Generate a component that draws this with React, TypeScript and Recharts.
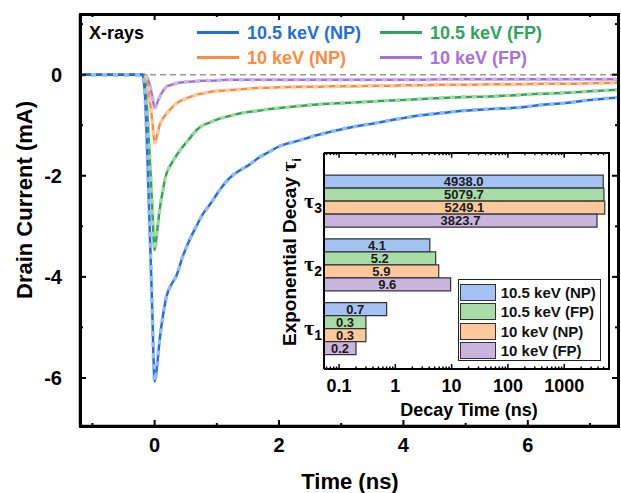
import React from "react";
import { LineChart, Line, XAxis, YAxis, ReferenceLine, BarChart, Bar, LabelList } from "recharts";

// main panel: drain current transients (mA) vs time (ns)
const times = [
  -1.2, -0.6, -0.2, -0.16, -0.12, -0.08, -0.04, 0, 0.04, 0.08, 0.13, 0.19, 0.27, 0.35, 0.45, 0.55,
  0.67, 0.78, 0.9, 1.04, 1.2, 1.36, 1.5, 1.69, 1.85, 2.0, 2.33, 2.6, 2.86, 3.2, 3.5, 3.8, 4.0, 4.3,
  4.6, 5.0, 5.4, 5.86, 6.2, 6.6, 7.0, 7.45,
];
const np105 = [
  0, 0, 0, -0.3, -1.5, -3.0, -4.6, -6.07, -5.75, -5.25, -4.8, -4.39, -4.15, -3.98, -3.6, -3.3,
  -3.0, -2.75, -2.55, -2.29, -2.05, -1.9, -1.8, -1.63, -1.52, -1.42, -1.3, -1.2, -1.12, -1.03, -0.97, -0.9, -0.86, -0.8,
  -0.76, -0.71, -0.68, -0.65, -0.6, -0.56, -0.5, -0.45,
];
const fp105 = [
  0, 0, 0, -0.1, -0.7, -1.6, -2.6, -3.47, -3.1, -2.68, -2.3, -1.96, -1.76, -1.6, -1.43, -1.28,
  -1.1, -1.0, -0.94, -0.87, -0.82, -0.77, -0.74, -0.71, -0.68, -0.66, -0.62, -0.59, -0.57, -0.55, -0.53, -0.51, -0.5, -0.48,
  -0.46, -0.44, -0.43, -0.4, -0.38, -0.36, -0.33, -0.3,
];
const np10 = [
  0, 0, 0, 0, -0.2, -0.5, -0.9, -1.35, -1.2, -1.0, -0.87, -0.77, -0.66, -0.57, -0.5, -0.45,
  -0.4, -0.37, -0.34, -0.32, -0.31, -0.29, -0.28, -0.26, -0.26, -0.25, -0.24, -0.24, -0.23, -0.23, -0.22, -0.22, -0.21, -0.21,
  -0.2, -0.2, -0.19, -0.19, -0.18, -0.18, -0.17, -0.16,
];
const fp10 = [
  0, 0, 0, 0, -0.05, -0.2, -0.42, -0.66, -0.56, -0.44, -0.33, -0.24, -0.2, -0.17, -0.15, -0.14,
  -0.13, -0.12, -0.12, -0.11, -0.1, -0.1, -0.1, -0.1, -0.1, -0.1, -0.1, -0.1, -0.1, -0.1, -0.1, -0.1, -0.1, -0.1,
  -0.09, -0.09, -0.09, -0.09, -0.09, -0.09, -0.09, -0.09,
];

const seriesNames = ["10.5 keV (NP)", "10.5 keV (FP)", "10 keV (NP)", "10 keV (FP)"];
const seriesKeys = ["np105", "fp105", "np10", "fp10"];
const lineColors = ["#1f6fe0", "#2ea55c", "#ff8a3d", "#a96fe0"];
const fitColors = ["#93bbf2", "#a2d99c", "#fcc89c", "#cbb2e8"];
const barFills = ["#a4c2f4", "#a8dca6", "#fdc99a", "#c9b5dd"];

const xDomain = [-1.2, 7.45];
const yDomain = [-6.95, 1.2];
const xTicks = [-1, 0, 1, 2, 3, 4, 5, 6, 7];
const xLabels = [0, 2, 4, 6];
const yTicks = [-6, -5, -4, -3, -2, -1, 0, 1];
const yLabels = [0, -2, -4, -6];

// inset: fitted decay constants (ns)
const tauNames = ["3", "2", "1"];
const tauNp105 = [4938.0, 4.1, 0.7];
const tauFp105 = [5079.7, 5.2, 0.3];
const tauNp10 = [5249.1, 5.9, 0.3];
const tauFp10 = [3823.7, 9.6, 0.2];
const decayMajor = [0.1, 1, 10, 100, 1000];
const decayMinor = [0.01, 0.1, 1, 10, 100, 1000]
  .flatMap((d) => [2, 3, 4, 5, 6, 7, 8, 9].map((m) => +(m * d).toPrecision(3)))
  .filter((v) => v > 0.054 && v < 6000);

const rows = times.map((t, i) => ({ t, np105: np105[i], fp105: fp105[i], np10: np10[i], fp10: fp10[i] }));
const tauRows = tauNames.map((name, i) => ({
  name, np105: tauNp105[i], fp105: tauFp105[i], np10: tauNp10[i], fp10: tauFp10[i],
}));

const FONT = "'Liberation Sans', Arial, sans-serif";
const P = { l: 80, r: 618, t: 14, b: 426 };
const IN = { x: 280, y: 140, w: 340, h: 285, l: 44, r: 328, t: 12.7, b: 229 };

// bottom ticks also draw the mirrored ticks on the top edge
const BottomTick = ({ x, payload }: any) => {
  const major = xLabels.includes(payload.value);
  const len = major ? 6 : 3;
  return (
    <g>
      <line x1={x} x2={x} y1={P.b} y2={P.b - len} stroke="#000" strokeWidth={2} />
      <line x1={x} x2={x} y1={P.t} y2={P.t + len} stroke="#000" strokeWidth={2} />
      {major && (
        <text x={x} y={P.b + 26} textAnchor="middle" fontSize={20} fontWeight="bold" fontFamily={FONT} fill="#000">
          {payload.value}
        </text>
      )}
    </g>
  );
};

// left ticks also draw the mirrored ticks on the right edge
const LeftTick = ({ y, payload }: any) => {
  const major = yLabels.includes(payload.value);
  const len = major ? 6 : 3;
  return (
    <g>
      <line x1={P.l} x2={P.l + len} y1={y} y2={y} stroke="#000" strokeWidth={2} />
      <line x1={P.r} x2={P.r - len} y1={y} y2={y} stroke="#000" strokeWidth={2} />
      {major && (
        <text x={62} y={y + 7} textAnchor="end" fontSize={20} fontWeight="bold" fontFamily={FONT} fill="#000">
          {payload.value}
        </text>
      )}
    </g>
  );
};

const DecayTick = ({ x, payload }: any) => {
  const major = decayMajor.includes(payload.value);
  return (
    <g>
      <line x1={x} x2={x} y1={IN.b} y2={IN.b - (major ? 5 : 2.5)} stroke="#000" strokeWidth={1.5} />
      <line x1={x} x2={x} y1={IN.t} y2={IN.t + (major ? 5 : 2.5)} stroke="#000" strokeWidth={1.5} />
      {major && (
        <text x={x} y={IN.b + 22.5} textAnchor="middle" fontSize={18} fontWeight="bold" fontFamily={FONT} fill="#000">
          {payload.value}
        </text>
      )}
    </g>
  );
};

const TauTick = ({ y, payload }: any) => (
  <text x={IN.l - 2} y={y + 7} textAnchor="end" fontWeight="bold" fill="#000">
    <tspan fontSize={22} fontFamily="'Liberation Serif', 'DejaVu Serif', serif">τ</tspan>
    <tspan fontSize={14} fontFamily={FONT} dy={5}>{payload.value}</tspan>
  </text>
);

const legendRows = [
  [0, 1],
  [2, 3],
];

export default function App() {
  return (
    <div style={{ position: "relative", width: 621, height: 493, fontFamily: FONT, background: "#fff" }}>
      <style>{"body{margin:0}"}</style>
      <LineChart width={621} height={493} data={rows} margin={{ top: P.t, right: 621 - P.r, bottom: 0, left: 0 }}>
        <XAxis dataKey="t" type="number" domain={xDomain} allowDataOverflow ticks={xTicks}
          interval={0} height={493 - P.b} tickLine={false} tick={BottomTick}
          axisLine={{ stroke: "#000", strokeWidth: 2.5 }} />
        <YAxis type="number" domain={yDomain} allowDataOverflow ticks={yTicks} interval={0}
          width={P.l} tickLine={false} tick={LeftTick} axisLine={{ stroke: "#000", strokeWidth: 2.5 }} />
        <ReferenceLine y={0} stroke="#9a9a9a" strokeWidth={1.5} strokeDasharray="6 4" />
        {[3, 2, 1, 0].map((i) => (
          <Line key={seriesKeys[i]} type="monotone" dataKey={seriesKeys[i]}
            stroke={lineColors[i]} strokeWidth={2.5} dot={false} isAnimationActive={false} />
        ))}
        {[3, 2, 1, 0].map((i) => (
          <Line key={seriesKeys[i] + "-fit"} type="monotone" dataKey={seriesKeys[i]}
            stroke={fitColors[i]} strokeWidth={3.5} strokeDasharray="5 6" dot={false} isAnimationActive={false} />
        ))}
      </LineChart>
      {/* plot frame */}
      <div style={{ position: "absolute", zIndex: 5, left: P.l - 1.5, top: P.t - 1.5, width: P.r - P.l + 3,
        height: P.b - P.t + 3, border: "3px solid #000", boxSizing: "border-box", pointerEvents: "none" }} />

      {/* axis titles */}
      <div style={{ position: "absolute", left: 25, top: 200, transform: "translate(-50%,-50%) rotate(-90deg)",
        whiteSpace: "nowrap", fontSize: 22, fontWeight: "bold" }}>Drain Current (mA)</div>
      <div style={{ position: "absolute", left: 350, top: 482, transform: "translate(-50%,-50%)",
        whiteSpace: "nowrap", fontSize: 22, fontWeight: "bold" }}>Time (ns)</div>

      {/* main legend */}
      <div style={{ position: "absolute", left: 89, top: 33, transform: "translateY(-50%)", fontSize: 18,
        fontWeight: "bold", whiteSpace: "nowrap" }}>X-rays</div>
      {legendRows.map((row, r) =>
        row.map((i, c) => {
          const lx = c === 0 ? 197 : 380;
          const tx = c === 0 ? 247 : 430;
          const cy = r === 0 ? 32 : 57;
          return (
            <React.Fragment key={i}>
              <div style={{ position: "absolute", left: lx, top: cy - 1.5, width: 42, height: 3, background: lineColors[i] }} />
              <div style={{ position: "absolute", left: tx, top: cy + 1, transform: "translateY(-50%)", fontSize: 18,
                fontWeight: "bold", color: lineColors[i], whiteSpace: "nowrap" }}>{seriesNames[i]}</div>
            </React.Fragment>
          );
        })
      )}

      {/* inset */}
      <div style={{ position: "absolute", left: IN.x, top: IN.y, width: IN.w, height: IN.h }}>
        <BarChart width={IN.w} height={IN.h} data={tauRows} layout="vertical" barCategoryGap={6.4} barGap={0}
          margin={{ top: IN.t, right: IN.w - IN.r, bottom: 0, left: 0 }}>
          <XAxis type="number" scale="log" domain={[0.054, 6000]} allowDataOverflow
            ticks={[...decayMajor, ...decayMinor]} interval={0} height={IN.h - IN.b} tickLine={false} tick={DecayTick}
            axisLine={{ stroke: "#000", strokeWidth: 2 }} />
          <YAxis type="category" dataKey="name" width={IN.l} padding={{ top: 16, bottom: 9 }}
            tickLine={false} tick={TauTick} axisLine={{ stroke: "#000", strokeWidth: 2 }} />
          {seriesKeys.map((k, i) => (
            <Bar key={k} dataKey={k} fill={barFills[i]} stroke="#333" strokeWidth={1.2} isAnimationActive={false}>
              <LabelList dataKey={k} position="center" formatter={(v: any) => Number(v).toFixed(1)}
                fontSize={13} fontWeight="bold" fontFamily={FONT} fill="#1a1a1a" />
            </Bar>
          ))}
        </BarChart>
        {/* top and right edges of the inset frame */}
        <div style={{ position: "absolute", left: IN.l, top: IN.t - 1, width: IN.r - IN.l, height: IN.b - IN.t,
          borderTop: "2px solid #000", borderRight: "2px solid #000", pointerEvents: "none" }} />
        <div style={{ position: "absolute", left: 10, top: 112, transform: "translate(-50%,-50%) rotate(-90deg)",
          whiteSpace: "nowrap", fontSize: 19, fontWeight: "bold" }}>
          Exponential Decay <span style={{ fontFamily: "'Liberation Serif', serif", fontSize: 22 }}>τ</span>
          <sub style={{ fontSize: 13 }}>i</sub>
        </div>
        <div style={{ position: "absolute", left: 189, top: 270, transform: "translate(-50%,-50%)",
          whiteSpace: "nowrap", fontSize: 18, fontWeight: "bold" }}>Decay Time (ns)</div>
      </div>

      {/* inset legend */}
      <div style={{ position: "absolute", left: 457.7, top: 279, width: 141, height: 80, border: "1.5px solid #222",
        background: "#fff" }}>
        {seriesNames.map((name, i) => (
          <div key={name} style={{ position: "absolute", left: 1, top: 3.5 + i * 19.5, height: 17, display: "flex",
            alignItems: "center", whiteSpace: "nowrap" }}>
            <div style={{ width: 34, height: 15, background: barFills[i], border: "1px solid #333" }} />
            <span style={{ marginLeft: 5, fontSize: 15, fontWeight: "bold", color: "#111" }}>{name}</span>
          </div>
        ))}
      </div>
    </div>
  );
}
